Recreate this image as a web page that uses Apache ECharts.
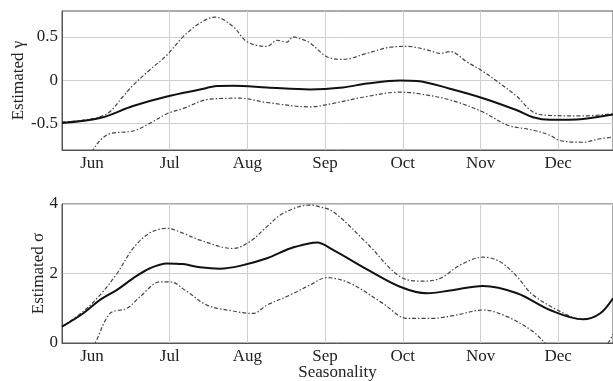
<!DOCTYPE html>
<html><head><meta charset="utf-8">
<script src="https://cdn.jsdelivr.net/npm/echarts@6/dist/echarts.min.js"></script>
<style>html,body{margin:0;padding:0;background:#fff}#c{width:613px;height:381px}</style>
</head><body><div id="c"></div>
<script>
// x positions in months (0 = Jun, 1 = Jul, ... 6 = Dec)
const monthTicks = [0, 1, 2, 3, 4, 5, 6];
const monthLabels = ['Jun', 'Jul', 'Aug', 'Sep', 'Oct', 'Nov', 'Dec'];
const xMin = -0.386, xMax = 6.705;

// Top panel: estimated gamma
const gMeanX = [-0.386, 0.103, 0.528, 0.965, 1.390, 1.609, 1.815, 2.252, 2.806, 3.230, 3.539, 3.964, 4.183, 4.607, 5.032, 5.470, 5.676, 5.894, 6.319, 6.705];
const gMeanY = [-0.496, -0.44, -0.30, -0.19, -0.11, -0.07, -0.066, -0.085, -0.108, -0.085, -0.04, -0.004, -0.01, -0.10, -0.21, -0.35, -0.43, -0.46, -0.45, -0.40];

const gUpX = [-0.386, -0.116, 0.193, 0.399, 0.528, 0.746, 0.965, 1.171, 1.390, 1.583, 1.815, 1.995, 2.252, 2.381, 2.510, 2.587, 2.677, 2.806, 3.024, 3.230, 3.539, 3.835, 4.054, 4.311, 4.479, 4.607, 4.826, 5.032, 5.251, 5.470, 5.676, 5.894, 6.319, 6.705];
const gUpY = [-0.485, -0.465, -0.39, -0.19, -0.06, 0.12, 0.29, 0.50, 0.66, 0.73, 0.62, 0.445, 0.39, 0.46, 0.44, 0.50, 0.48, 0.43, 0.27, 0.24, 0.31, 0.38, 0.39, 0.35, 0.31, 0.33, 0.21, 0.10, -0.04, -0.19, -0.37, -0.41, -0.415, -0.39];

const gLoX = [-0.386, -0.116, 0.013, 0.103, 0.232, 0.528, 0.746, 0.965, 1.171, 1.519, 1.905, 2.252, 2.806, 3.102, 3.539, 3.964, 4.183, 4.607, 5.032, 5.341, 5.676, 5.894, 6.023, 6.319, 6.538, 6.705];
const gLoY = [-1.10, -0.95, -0.81, -0.70, -0.62, -0.59, -0.50, -0.39, -0.33, -0.22, -0.21, -0.26, -0.31, -0.27, -0.19, -0.14, -0.155, -0.23, -0.37, -0.52, -0.58, -0.64, -0.70, -0.72, -0.68, -0.66];

// Bottom panel: estimated sigma
const sMeanX = [-0.386, -0.116, 0.103, 0.322, 0.528, 0.746, 0.965, 1.171, 1.390, 1.647, 1.905, 2.252, 2.548, 2.806, 2.896, 3.102, 3.539, 3.964, 4.311, 4.607, 5.032, 5.470, 5.894, 6.319, 6.538, 6.705];
const sMeanY = [0.47, 0.85, 1.24, 1.53, 1.86, 2.15, 2.29, 2.27, 2.18, 2.14, 2.22, 2.44, 2.72, 2.87, 2.89, 2.68, 2.12, 1.62, 1.43, 1.51, 1.64, 1.43, 0.95, 0.68, 0.85, 1.29];

const sUpX = [-0.386, -0.116, 0.103, 0.322, 0.528, 0.746, 0.965, 1.171, 1.390, 1.815, 2.033, 2.252, 2.458, 2.806, 2.896, 3.102, 3.539, 3.964, 4.260, 4.479, 4.736, 5.032, 5.251, 5.470, 5.676, 6.113, 6.319, 6.538, 6.705];
const sUpY = [0.47, 0.90, 1.38, 2.00, 2.72, 3.17, 3.30, 3.16, 2.96, 2.72, 2.92, 3.35, 3.73, 3.97, 3.94, 3.78, 2.87, 1.91, 1.78, 1.86, 2.24, 2.47, 2.34, 1.91, 1.38, 0.81, 0.68, 0.85, 1.29];

const sLoX = [-0.386, -0.116, 0.039, 0.232, 0.450, 0.618, 0.875, 1.004, 1.223, 1.480, 1.815, 2.072, 2.252, 2.548, 2.806, 3.024, 3.320, 3.745, 4.054, 4.389, 4.698, 5.032, 5.341, 5.676, 5.830, 6.023, 6.319, 6.538, 6.641, 6.705];
const sLoY = [-1.2, -0.5, 0.0, 0.85, 1.00, 1.33, 1.76, 1.76, 1.48, 1.09, 0.92, 0.85, 1.09, 1.38, 1.67, 1.88, 1.72, 1.14, 0.71, 0.71, 0.81, 0.95, 0.76, 0.33, 0.0, -0.35, -0.55, -0.25, 0.0, 0.26];

const topTicks = [-0.5, 0, 0.5];
const botTicks = [0, 2, 4];

const pairs = (xs, ys) => xs.map((x, i) => [x, ys[i]]);
const FONT = '"Liberation Serif", "DejaVu Serif", serif';
const FS = 17;

function xAxisCfg(gi) {
  return {
    type: 'value', gridIndex: gi, min: xMin, max: xMax,
    axisLine: { show: true, onZero: false, lineStyle: { color: '#555', width: 1 } },
    axisTick: { show: false, customValues: monthTicks },
    axisLabel: { customValues: monthTicks, color: '#222', fontFamily: FONT, fontSize: FS, margin: 5,
      formatter: v => monthLabels[Math.round(v)] },
    splitLine: { show: true, lineStyle: { color: ['rgba(255,255,255,0)', '#cfcfcf', '#cfcfcf', '#cfcfcf', '#cfcfcf', '#cfcfcf', '#cfcfcf'], width: 1 } },
    name: gi === 1 ? 'Seasonality' : '',
    nameLocation: 'middle', nameGap: 21, nameMoveOverlap: false,
    nameTextStyle: { color: '#222', fontFamily: FONT, fontSize: FS }
  };
}
function yAxisCfg(gi, min, max, ticks, name, fmt, gap) {
  return {
    type: 'value', gridIndex: gi, min: min, max: max,
    axisLine: { show: true, onZero: false, lineStyle: { color: '#555', width: 1 } },
    axisTick: { show: false, customValues: ticks },
    axisLabel: { customValues: ticks, color: '#222', fontFamily: FONT, fontSize: FS, margin: 4, formatter: fmt },
    splitLine: { show: true, lineStyle: { color: '#cfcfcf', width: 1 } },
    name: name, nameLocation: 'middle', nameGap: gap, nameMoveOverlap: false,
    nameTextStyle: { color: '#222', fontFamily: FONT, fontSize: FS }
  };
}
function line(gi, xs, ys, dashed) {
  return {
    type: 'line', xAxisIndex: gi, yAxisIndex: gi, data: pairs(xs, ys),
    smooth: 0.35, showSymbol: false, clip: true, silent: true,
    lineStyle: dashed ? { color: '#444', width: 1.2, type: [4, 2, 1.5, 2] } : { color: '#111', width: 2 }
  };
}

const chart = echarts.init(document.getElementById('c'), null, { renderer: 'canvas' });
chart.setOption({
  animation: false,
  backgroundColor: '#fff',
  grid: [
    { left: 62, top: 11, right: 0, height: 139, show: true, borderColor: '#555', borderWidth: 1, outerBoundsMode: 'none', containLabel: false },
    { left: 62, top: 204, right: 0, height: 139, show: true, borderColor: '#555', borderWidth: 1, outerBoundsMode: 'none', containLabel: false }
  ],
  xAxis: [xAxisCfg(0), xAxisCfg(1)],
  yAxis: [
    yAxisCfg(0, -0.81, 0.8, topTicks, 'Estimated γ', v => (v === 0 ? '0' : String(v)), 35),
    yAxisCfg(1, 0, 4, botTicks, 'Estimated σ', v => String(v), 15)
  ],
  series: [
    line(0, gUpX, gUpY, true), line(0, gLoX, gLoY, true), line(0, gMeanX, gMeanY, false),
    line(1, sUpX, sUpY, true), line(1, sLoX, sLoY, true), line(1, sMeanX, sMeanY, false)
  ]
});
</script></body></html>
